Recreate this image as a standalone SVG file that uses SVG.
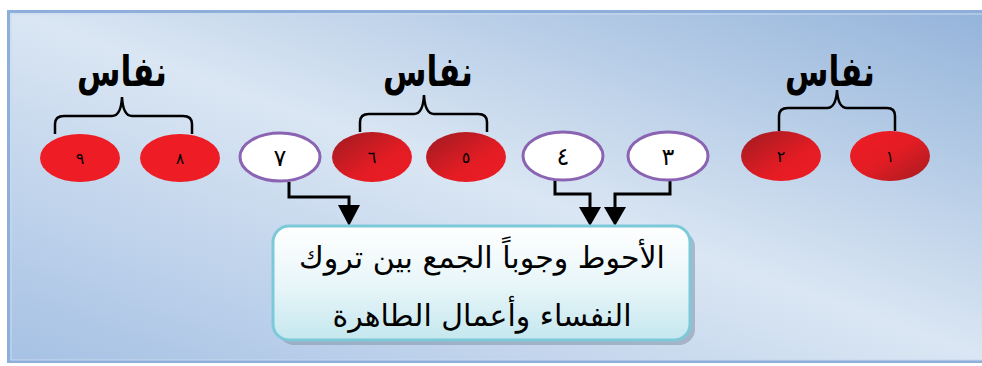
<svg xmlns="http://www.w3.org/2000/svg" width="982" height="366" viewBox="0 0 982 366">
<defs>
<linearGradient id="bg" x1="1" y1="0" x2="0" y2="1">
<stop offset="0" stop-color="#93b3da"/>
<stop offset="0.5" stop-color="#dae6f3"/>
<stop offset="1" stop-color="#a6c1e4"/>
</linearGradient>
<linearGradient id="redA" x1="0" y1="0" x2="1" y2="1">
<stop offset="0" stop-color="#9e1b21"/>
<stop offset="0.6" stop-color="#e31c24"/>
<stop offset="1" stop-color="#ee1c24"/>
</linearGradient>
<linearGradient id="redB" x1="0" y1="0" x2="1" y2="1">
<stop offset="0" stop-color="#ee1c24"/>
<stop offset="0.5" stop-color="#e31c24"/>
<stop offset="1" stop-color="#a41b21"/>
</linearGradient>
<linearGradient id="boxg" x1="0" y1="0" x2="0" y2="1">
<stop offset="0" stop-color="#ffffff"/>
<stop offset="0.55" stop-color="#e6f5f8"/>
<stop offset="1" stop-color="#c4e7ee"/>
</linearGradient>
</defs>
<style>
.lbl{font-family:"DejaVu Sans",sans-serif;font-weight:bold;font-size:42px;fill:#000;text-anchor:middle}
.brace{fill:none;stroke:#000;stroke-width:2.5}
.wht{fill:#fff;stroke:#8a64b2;stroke-width:3}
.dg{font-family:"DejaVu Sans",sans-serif;font-size:16px;fill:#000;text-anchor:middle}
.dgw{font-family:"DejaVu Sans",sans-serif;font-size:24px;fill:#000;text-anchor:middle}
.conn{fill:none;stroke:#000;stroke-width:3}
.head{fill:#000;stroke:none}
.box{fill:url(#boxg);stroke:#7ccad9;stroke-width:3}
.bt{font-family:"DejaVu Sans",sans-serif;font-size:30px;fill:#000;text-anchor:middle}
</style>
<rect x="0" y="0" width="982" height="366" fill="#fff"/>
<rect x="8.5" y="11.5" width="990" height="350" fill="url(#bg)" stroke="#8eaedb" stroke-width="3"/>
<rect x="11" y="14" width="990" height="346" fill="none" stroke="#c9d9ee" stroke-width="1"/>

<g id="labels">
<text class="lbl" transform="translate(122,86) scale(0.75,1)">نفاس</text>
<text class="lbl" transform="translate(428,86) scale(0.75,1)">نفاس</text>
<text class="lbl" transform="translate(830,86) scale(0.75,1)">نفاس</text>
</g>
<g id="braces">
<path class="brace" d="M55,134 V124 Q55,116 64,116 H112 Q121,116 122,97 Q123,116 132,116 H183 Q192,116 192,124 V134"/>
<path class="brace" d="M360,132 V122 Q360,114 369,114 H414 Q423,114 424,95 Q425,114 434,114 H478 Q487,114 487,122 V132"/>
<path class="brace" d="M779,131 V116 Q779,108 788,108 H827 Q836,108 837,90 Q838,108 847,108 H887 Q895,108 895,116 V131"/>
</g>

<g id="connectors">
<polyline class="conn" points="289,182 289,197 349,197 349,206"/>
<polygon class="head" points="338,205 360,205 349,226"/>
<polyline class="conn" points="555,180 555,194 590,194 590,208"/>
<polygon class="head" points="579,207 601,207 590,226"/>
<polyline class="conn" points="670,180 670,194 615,194 615,208"/>
<polygon class="head" points="604,207 626,207 615,226"/>
</g>

<g id="n9"><ellipse cx="80" cy="158" rx="40" ry="24" fill="#ee1c24"/><text class="dg" x="80" y="164">٩</text></g>
<g id="n8"><ellipse cx="180" cy="158" rx="40" ry="24" fill="#ee1c24"/><text class="dg" x="180" y="164">٨</text></g>
<g id="n7"><ellipse class="wht" cx="280" cy="157" rx="40" ry="24"/><text class="dgw" x="280" y="166">٧</text></g>
<g id="n6"><ellipse cx="372" cy="157" rx="40" ry="25" fill="url(#redA)"/><text class="dg" x="372" y="163">٦</text></g>
<g id="n5"><ellipse cx="466" cy="157" rx="40" ry="25" fill="url(#redA)"/><text class="dg" x="466" y="163">٥</text></g>
<g id="n4"><ellipse class="wht" cx="563" cy="156" rx="40" ry="24"/><text class="dgw" x="563" y="165">٤</text></g>
<g id="n3"><ellipse class="wht" cx="668" cy="156" rx="40" ry="24"/><text class="dgw" x="668" y="165">٣</text></g>
<g id="n2"><ellipse cx="781" cy="156" rx="40" ry="25" fill="url(#redA)"/><text class="dg" x="781" y="162">٢</text></g>
<g id="n1"><ellipse cx="890" cy="156" rx="40" ry="25" fill="url(#redB)"/><text class="dg" x="890" y="162">١</text></g>

<g id="result">
<rect x="278" y="231" width="417" height="114" rx="16" fill="#8a9aae" opacity="0.6"/>
<rect class="box" x="273" y="226" width="417" height="114" rx="16"/>
<text class="bt" x="482" y="268">الأحوط وجوباً الجمع بين تروك</text>
<text class="bt" x="482" y="326">النفساء وأعمال الطاهرة</text>
</g>
</svg>
